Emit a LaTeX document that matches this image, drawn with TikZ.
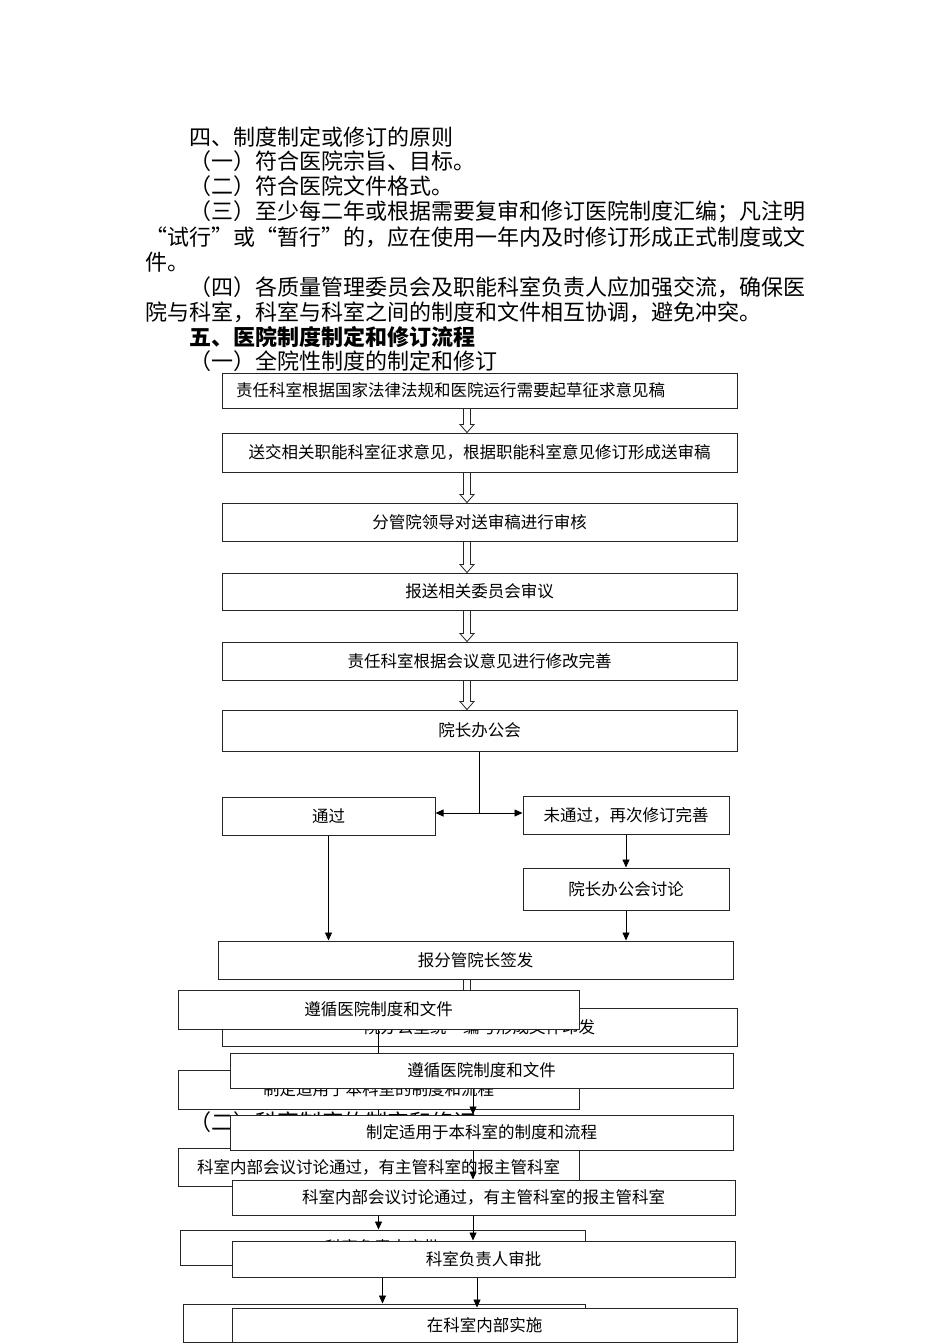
\documentclass[tikz,border=0pt]{standalone}
\usepackage{fontspec}
\setmainfont{Noto Sans CJK SC}
\usetikzlibrary{arrows.meta,calc}
\newcommand{\bodyfont}{\fontsize{22}{25}\selectfont}
\newcommand{\boxfont}{\fontsize{16.5}{18}\selectfont}
\newcommand{\hollowarrow}[2]{%
  \filldraw[fill=white, draw=black!85, line width=0.8pt] let \p1=#1, \p2=#2 in
    (\x1-3.5,\y1) -- (\x1+3.5,\y1) -- (\x1+3.5,\y2+8) -- (\x1+7,\y2+8)
    -- (\x1,\y2) -- (\x1-7,\y2+8) -- (\x1-3.5,\y2+8) -- cycle;}

\begin{document}
\begin{tikzpicture}[x=1pt, y=-1pt,
	box/.style={draw=black!85, line width=1pt, fill=white, inner sep=0pt, font=\boxfont},
	textline/.style={anchor=west, inner sep=0pt, font=\bodyfont},
	flow/.style={-{Triangle[length=8pt,width=7pt]}, line width=0.8pt}]

		\useasboundingbox (0,0) rectangle (950,1344);
		\fill[white] (0,0) rectangle (950,1344);

		% Text
		\node[textline] (t1) at (189, 137) {四、制度制定或修订的原则};
		\node[textline] (t2) at (189, 161) {（一）符合医院宗旨、目标。};
		\node[textline] (t3) at (189, 186) {（二）符合医院文件格式。};
		\node[textline] (t4) at (189, 212) {（三）至少每二年或根据需要复审和修订医院制度汇编；凡注明};
		\node[textline] (t5) at (145, 237) {“试行”或“暂行”的，应在使用一年内及时修订形成正式制度或文};
		\node[textline] (t6) at (145, 262) {件。};
		\node[textline] (t7) at (189, 287) {（四）各质量管理委员会及职能科室负责人应加强交流，确保医};
		\node[textline] (t8) at (145, 312) {院与科室，科室与科室之间的制度和文件相互协调，避免冲突。};
		\node[textline, font=\bodyfont\bfseries] (t9) at (189, 337) {五、医院制度制定和修订流程};
		\node[textline] (t10) at (189, 361) {（一）全院性制度的制定和修订};

		% Rectangles
		\node[box, minimum height=35pt, text width=487pt, inner xsep=14pt, align=left] (b1) at (479.5, 390.5) {责任科室根据国家法律法规和医院运行需要起草征求意见稿};
		\node[box, minimum width=515pt, minimum height=39pt] (b2) at (479.5, 452.5) {送交相关职能科室征求意见，根据职能科室意见修订形成送审稿};
		\node[box, minimum width=515pt, minimum height=38pt] (b3) at (479.5, 522) {分管院领导对送审稿进行审核};
		\node[box, minimum width=515pt, minimum height=37pt] (b4) at (479.5, 591.5) {报送相关委员会审议};
		\node[box, minimum width=515pt, minimum height=38pt] (b5) at (479.5, 661) {责任科室根据会议意见进行修改完善};
		\node[box, minimum width=515pt, minimum height=41pt] (meet) at (479.5, 730.5) {院长办公会};
		\node[box, minimum width=213pt, minimum height=38pt] (pass) at (328.5, 816) {通过};
		\node[box, minimum width=206pt, minimum height=38pt] (fail) at (626, 815) {未通过，再次修订完善};
		\node[box, minimum width=206pt, minimum height=42pt] (talk) at (626, 889) {院长办公会讨论};
		\node[box, minimum width=515pt, minimum height=38pt] (report) at (475.5, 960) {报分管院长签发};

		% Hollow arrows
		\hollowarrow{($(b1.south)+(-12.5,0)$)}{(b2.north)}
		\hollowarrow{($(b2.south)+(-12.5,0)$)}{(b3.north)}
		\hollowarrow{($(b3.south)+(-12.5,0)$)}{(b4.north)}
		\hollowarrow{($(b4.south)+(-12.5,0)$)}{(b5.north)}
		\hollowarrow{($(b5.south)+(-12.5,0)$)}{(meet.north)}

		% Lines
		\coordinate (split) at ($(meet.south |- pass.east)+(0,-3)$);
		\draw[line width=0.8pt] (meet.south) -- (split);
		\draw[{Triangle[length=8pt,width=7pt]}-{Triangle[length=8pt,width=7pt]}, line width=0.8pt] ($(pass.east)+(0,-3)$) -- ($(fail.west)+(0,-2)$);
		\draw[flow] (fail.south) -- (talk.north);
		\draw[flow] (pass.south) -- (pass.south |- report.north);
		\draw[flow] (talk.south) -- (talk.south |- report.north);

		% Lower part, back layer
		\node[box, minimum width=515pt, minimum height=38pt] (issue) at (479.5, 1027) {院办公室统一编号形成文件印发};
		\hollowarrow{($(report.south)+(-8.5,0)$)}{(issue.north)}
		\node[box, minimum width=401pt, minimum height=39pt] (followA) at (378.5, 1009.5) {遵循医院制度和文件};
		\node[box, minimum width=401pt, minimum height=39pt] (draftA) at (378.5, 1089.5) {制定适用于本科室的制度和流程};
		\draw[flow] (followA.south) -- (draftA.north);
		\node[textline] (t11) at (189, 1122) {（二）科室制度的制定和修订};
		\node[box, minimum width=401pt, minimum height=38pt] (meetA) at (378.5, 1167) {科室内部会议讨论通过，有主管科室的报主管科室};
		\draw[flow] (draftA.south) -- (draftA.south |- meetA.north);
		\node[box, minimum width=405pt, minimum height=35pt] (approveA) at (382.5, 1247.5) {科室负责人审批};
		\draw[flow] (meetA.south) -- (meetA.south |- approveA.north);
		\node[box, minimum width=402pt, minimum height=38pt] (doA) at (384, 1323) {在科室内部实施};
		\draw[flow] (approveA.south) -- (approveA.south |- doA.north);

		% Lower part, front layer
		\node[box, minimum width=503pt, minimum height=35pt] (followB) at (481.5, 1070.5) {遵循医院制度和文件};
		\node[box, minimum width=503pt, minimum height=35pt] (draftB) at (481.5, 1132.5) {制定适用于本科室的制度和流程};
		\node[box, minimum width=503pt, minimum height=35pt] (meetB) at (483.5, 1197.5) {科室内部会议讨论通过，有主管科室的报主管科室};
		\node[box, minimum width=503pt, minimum height=36pt] (approveB) at (483.5, 1259) {科室负责人审批};
		\node[box, minimum width=505pt, minimum height=34pt] (doB) at (484.5, 1325) {在科室内部实施};
		\draw[flow] ($(followB.south)+(-8.5,0)$) -- ($(draftB.north)+(-8.5,0)$);
		\draw[flow] ($(draftB.south)+(-8.5,0)$) -- ($(meetB.north)+(-10.5,0)$);
		\draw[flow] ($(meetB.south)+(-10.5,0)$) -- ($(approveB.north)+(-10.5,0)$);
		\draw[flow] ($(approveB.south)+(-6.5,0)$) -- ($(doB.north)+(-7.5,0)$);

	\end{tikzpicture}
\end{document}
